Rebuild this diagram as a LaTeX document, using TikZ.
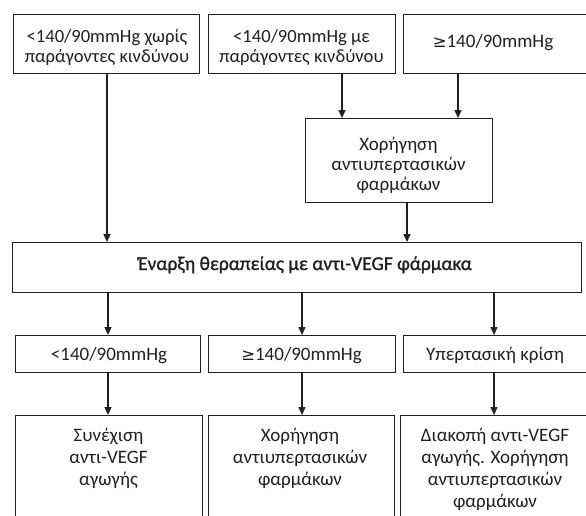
\documentclass[tikz,border=0pt]{standalone}
\usepackage{fontspec}
\setmainfont{Carlito}
\newfontfamily\symf{DejaVu Sans}
\newfontfamily\semib[FakeBold=1.2]{Carlito}
\usetikzlibrary{arrows.meta}
\definecolor{ink}{HTML}{231F20}
\begin{document}
\begin{tikzpicture}[x=1pt,y=-1pt,
  box/.style={draw=ink, line width=1.4pt, anchor=north west, inner sep=0pt},
  txt/.style={inner sep=0pt, align=center, text=ink, font=\fontsize{19}{20}\selectfont},
  arr/.style={draw=ink, line width=1.4pt, -{Triangle[length=8pt,width=7pt]}}]
\useasboundingbox (0,0) rectangle (586,515);
\clip (0,0) rectangle (586,515);
% top row
\node[box, minimum width=186, minimum height=59] (a) at (13,14) {};
\node[box, minimum width=187, minimum height=59] (b) at (208,14) {};
\node[box, minimum width=200, minimum height=59] (c) at (403,14) {};
\node[txt, anchor=north, font=\fontsize{18.6}{19.5}\selectfont] (at) at (107,29.5) {<140/90mmHg χωρίς\\παράγοντες κινδύνου};
\node[txt, anchor=north, font=\fontsize{18.6}{19.5}\selectfont] (bt) at (301.5,29.5) {<140/90mmHg με\\παράγοντες κινδύνου};
\node[txt, anchor=base] (ct) at (493,47) {{\symf\fontsize{16.5}{17}\selectfont ≥}140/90mmHg};
% middle
\node[box, minimum width=187, minimum height=84] (m) at (305,118) {};
\node[txt, anchor=north] (mt) at (398.5,137) {Χορήγηση\\αντιυπερτασικών\\φαρμάκων};
% main
\node[box, minimum width=569, minimum height=50] (main) at (12,242) {};
\node[txt, anchor=base, font=\fontsize{19.5}{20}\selectfont] (maint) at (305,270) {\semib Έναρξη θεραπείας με αντι-VEGF φάρμακα};
% second row
\node[box, minimum width=185, minimum height=37] (r1) at (15,335) {};
\node[box, minimum width=187, minimum height=37] (r2) at (208,335) {};
\node[box, minimum width=200, minimum height=37] (r3) at (403,335) {};
\node[txt, anchor=base] (r1t) at (109,360) {<140/90mmHg};
\node[txt, anchor=base] (r2t) at (301.5,360) {{\symf\fontsize{16.5}{17}\selectfont ≥}140/90mmHg};
\node[txt, anchor=base] (r3t) at (495,360) {Υπερτασική κρίση};
% bottom row
\node[box, minimum width=187, minimum height=150] (s1) at (15,415) {};
\node[box, minimum width=186, minimum height=150] (s2) at (208,415) {};
\node[box, minimum width=200, minimum height=150] (s3) at (400,415) {};
\node[txt, anchor=north, font=\fontsize{19}{22}\selectfont] (s1t) at (108.5,427.5) {Συνέχιση\\αντι-VEGF\\αγωγής};
\node[txt, anchor=north, font=\fontsize{19}{22}\selectfont] (s2t) at (300,427.5) {Χορήγηση\\αντιυπερτασικών\\φαρμάκων};
\node[txt, anchor=north, font=\fontsize{19}{22}\selectfont] (s3t) at (495,427.5) {Διακοπή αντι-VEGF\\αγωγής. Χορήγηση\\αντιυπερτασικών\\φαρμάκων};
% arrows
\draw[arr] (a.south -| 107,0) -- (main.north -| 107,0);
\draw[arr] (b.south -| 342,0) -- (m.north -| 342,0);
\draw[arr] (c.south -| 458,0) -- (m.north -| 458,0);
\draw[arr] (m.south -| 407,0) -- (main.north -| 407,0);
\draw[arr] (main.south -| 108,0) -- (r1.north -| 108,0);
\draw[arr] (main.south -| 302,0) -- (r2.north -| 302,0);
\draw[arr] (main.south -| 494,0) -- (r3.north -| 494,0);
\draw[arr] (r1.south -| 108,0) -- (s1.north -| 108,0);
\draw[arr] (r2.south -| 302,0) -- (s2.north -| 302,0);
\draw[arr] (r3.south -| 494,0) -- (s3.north -| 494,0);
\end{tikzpicture}
\end{document}
